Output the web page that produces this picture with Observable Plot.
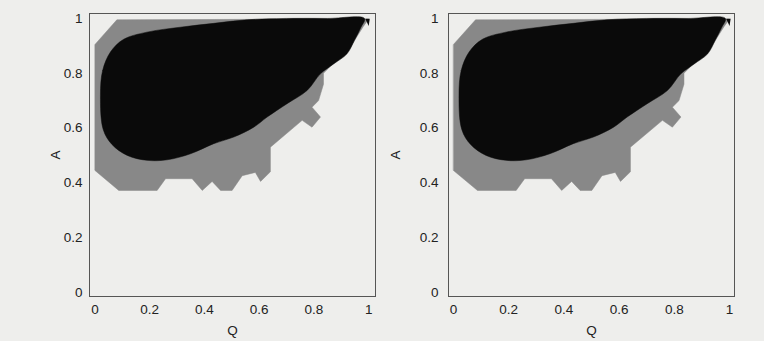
<!DOCTYPE html>
<html>
<head>
<meta charset="utf-8">
<script src="https://cdn.jsdelivr.net/npm/d3@7"></script>
<script src="https://cdn.jsdelivr.net/npm/@observablehq/plot@0.6"></script>
<style>
  html, body { margin: 0; padding: 0; background: #eeeeec; }
  #wrap { display: flex; width: 764px; height: 341px; overflow: hidden; }
  #wrap svg { display: block; }
</style>
</head>
<body>
<div id="wrap"></div>
<script>
// Tick values and labels
const tickValues = [0, 0.2, 0.4, 0.6, 0.8, 1];
const tickLabels = ["0", "0.2", "0.4", "0.6", "0.8", "1"];

// Outer (gray) region outline, [Q, A]
const grayOutline = [
  [0.000, 0.445], [0.087, 0.372], [0.227, 0.372], [0.258, 0.415], [0.355, 0.415],
  [0.392, 0.372], [0.428, 0.405], [0.459, 0.372], [0.501, 0.372], [0.538, 0.426],
  [0.586, 0.438], [0.605, 0.405], [0.641, 0.440], [0.641, 0.530], [0.757, 0.628],
  [0.793, 0.603], [0.824, 0.640], [0.793, 0.676], [0.817, 0.700], [0.835, 0.760],
  [0.835, 0.800], [0.880, 0.845], [0.925, 0.880], [0.955, 0.930], [0.980, 0.970],
  [1.000, 0.998], [0.080, 0.995], [0.000, 0.905]
];

// Inner (black) region outline, [Q, A]
const blackOutline = [
  [0.020, 0.720], [0.028, 0.810], [0.057, 0.878], [0.105, 0.924], [0.190, 0.950],
  [0.312, 0.968], [0.434, 0.982], [0.556, 0.995], [0.700, 1.000], [0.850, 1.000],
  [0.985, 1.000], [0.972, 0.968], [0.948, 0.920], [0.921, 0.871], [0.872, 0.834],
  [0.824, 0.798], [0.775, 0.737], [0.702, 0.689], [0.629, 0.640], [0.580, 0.603],
  [0.507, 0.567], [0.434, 0.543], [0.349, 0.506], [0.264, 0.484], [0.190, 0.482],
  [0.118, 0.500], [0.062, 0.540], [0.030, 0.595]
];

// Small black corner piece, [Q, A]
const cornerBlack = [[0.988, 0.999], [1.004, 0.999], [1.000, 0.972]];

const font = "'Liberation Sans', Arial, sans-serif";

function panel({marginLeft, marginRight, xDomain, yLabelOffset, tickPad}) {
  return Plot.plot({
    width: 382,
    height: 341,
    marginLeft,
    marginRight,
    marginTop: 13,
    marginBottom: 45,
    style: {background: "transparent", fontFamily: font, fontSize: "13.5px", color: "#222"},
    x: {domain: xDomain, ticks: tickValues, tickFormat: (d) => tickLabels[tickValues.indexOf(d)],
        tickSize: 0, tickPadding: 8, label: "Q", labelAnchor: "center", labelOffset: 38, labelArrow: "none"},
    y: {domain: [-0.015, 1.018], ticks: tickValues, tickFormat: (d) => tickLabels[tickValues.indexOf(d)],
        tickSize: 0, tickPadding: tickPad, label: "A", labelAnchor: "center", labelOffset: yLabelOffset, labelArrow: "none"},
    marks: [
      Plot.line(grayOutline, {x: d => d[0], y: d => d[1], fill: "#888888", stroke: "#888888", strokeWidth: 0.5, curve: "linear-closed"}),
      Plot.line(blackOutline, {x: d => d[0], y: d => d[1], fill: "#0a0a0a", stroke: "#0a0a0a", strokeWidth: 0.5, curve: "catmull-rom-closed", clip: true}),
      Plot.line(cornerBlack, {x: d => d[0], y: d => d[1], fill: "#0a0a0a", stroke: "none", curve: "linear-closed"}),
      Plot.frame({stroke: "#555", strokeWidth: 1})
    ]
  });
}

const wrap = document.getElementById("wrap");
wrap.appendChild(panel({marginLeft: 89, marginRight: 7, xDomain: [-0.02, 1.025], yLabelOffset: 39, tickPad: 7}));
wrap.appendChild(panel({marginLeft: 66, marginRight: 30, xDomain: [-0.018, 1.018], yLabelOffset: 58, tickPad: 10}));
</script>
</body>
</html>
